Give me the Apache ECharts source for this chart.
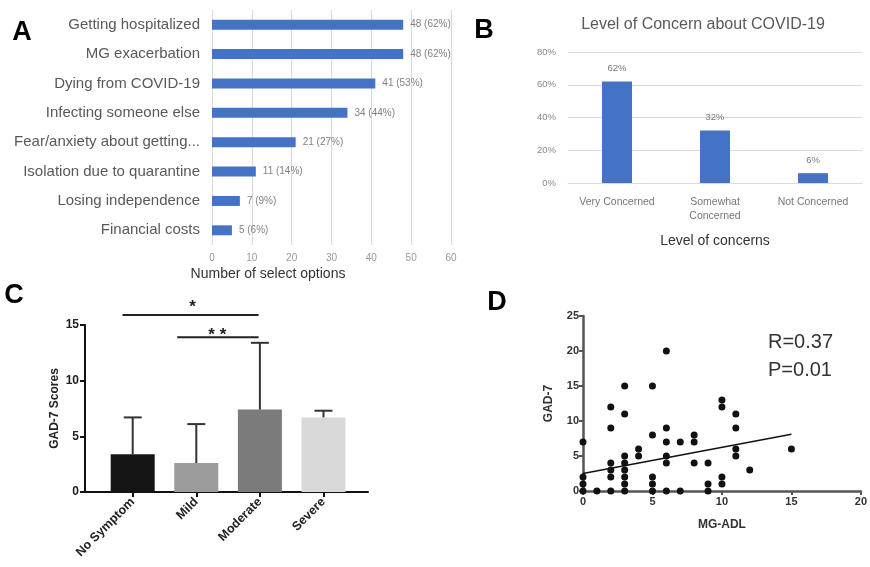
<!DOCTYPE html>
<html>
<head>
<meta charset="utf-8">
<script src="https://cdn.jsdelivr.net/npm/echarts@6/dist/echarts.min.js"></script>
<style>
  html, body { margin: 0; padding: 0; background: #fff; }
  #chart { width: 870px; height: 567px; }
</style>
</head>
<body>
<div id="chart"></div>
<script>
// A - concerns (number of select options)
const concernItems = ['Getting hospitalized', 'MG exacerbation', 'Dying from COVID-19', 'Infecting someone else',
  'Fear/anxiety about getting...', 'Isolation due to quarantine', 'Losing independence', 'Financial costs'];
const concernCounts = [48, 48, 41, 34, 21, 11, 7, 5];
const concernPercents = [62, 62, 53, 44, 27, 14, 9, 6];

// B - level of concern
const levelNames = ['Very Concerned', 'Somewhat\nConcerned', 'Not Concerned'];
const levelShares = [0.62, 0.32, 0.06];

// C - GAD-7 by group (mean, upper SD)
const gadGroups = ['No Symptom', 'Mild', 'Moderate', 'Severe'];
const gadMeans = [3.4, 2.6, 7.4, 6.7];
const gadErrTops = [6.7, 6.1, 13.4, 7.3];

// D - MG-ADL vs GAD-7
const adlScores = [0, 0, 0, 0, 1, 2, 2, 2, 2, 2, 2, 3, 3, 3, 3, 3, 3, 3, 3, 4, 4, 5, 5, 5, 5, 5,
  6, 6, 6, 6, 6, 6, 7, 7, 8, 8, 8, 9, 9, 9, 10, 10, 10, 10, 11, 11, 11, 11, 12, 15];
const gadScores = [0, 1, 2, 7, 0, 0, 2, 3, 4, 9, 12, 0, 1, 2, 3, 4, 5, 11, 15, 5, 6, 0, 1, 2, 8, 15,
  0, 4, 5, 7, 9, 20, 0, 7, 4, 7, 8, 0, 1, 4, 1, 2, 12, 13, 5, 6, 9, 11, 3, 6];
const trendX = [0, 15];
const trendY = [2.5, 8.1];

// styles
const officeBlue = '#4472c4';
const cBarColors = ['#141414', '#9c9c9c', '#7b7b7b', '#d9d9d9'];
const arial = 'Liberation Sans';

let mychart = echarts.init(document.getElementById('chart'));

let option = {
  animation: false,
  grid: [
    { left: 212, top: 10, width: 239, height: 235 },
    { left: 568, top: 52, width: 294, height: 131 },
    { left: 85, top: 325, width: 283, height: 167 },
    { left: 583, top: 316, width: 279, height: 175 }
  ],
  xAxis: [
    {
      gridIndex: 0, type: 'value', min: 0, max: 60, interval: 10,
      axisLine: { show: false }, axisTick: { show: false },
      axisLabel: { color: '#999', fontSize: 10, fontFamily: arial, margin: 8 },
      splitLine: { lineStyle: { color: '#d9d9d9' } }
    },
    {
      gridIndex: 1, type: 'category', data: levelNames,
      axisLine: { lineStyle: { color: '#d9d9d9' } }, axisTick: { show: false },
      axisLabel: { color: '#777', fontSize: 10.5, fontFamily: arial, margin: 12, lineHeight: 14 },
      name: 'Level of concerns', nameLocation: 'middle', nameGap: 51,
      nameTextStyle: { color: '#333', fontSize: 14, fontFamily: arial }
    },
    {
      gridIndex: 2, type: 'value', min: -0.75, max: 3.7,
      axisLine: { onZero: false, lineStyle: { color: '#111', width: 2 } },
      axisTick: { customValues: [0, 1, 2, 3], length: 5, lineStyle: { color: '#111', width: 2 } },
      axisLabel: {
        customValues: [0, 1, 2, 3], formatter: function (v) { return gadGroups[v]; },
        rotate: 45, fontWeight: 'bold', fontSize: 12.5, fontFamily: arial, color: '#222', margin: 8
      },
      splitLine: { show: false }
    },
    {
      gridIndex: 3, type: 'value', min: 0, max: 20, interval: 5,
      axisLine: { onZero: false, lineStyle: { color: '#555', width: 2.5 } },
      axisTick: { length: 4, lineStyle: { color: '#555', width: 2 } },
      axisLabel: { fontWeight: 'bold', fontSize: 11, fontFamily: arial, color: '#333', margin: 5 },
      splitLine: { show: false },
      name: 'MG-ADL', nameLocation: 'middle', nameGap: 28,
      nameTextStyle: { fontWeight: 'bold', fontSize: 12, fontFamily: arial, color: '#333' }
    }
  ],
  yAxis: [
    {
      gridIndex: 0, type: 'category', data: concernItems, inverse: true,
      axisLine: { show: false }, axisTick: { show: false },
      axisLabel: { color: '#595959', fontSize: 15, fontFamily: arial, margin: 12 }
    },
    {
      gridIndex: 1, type: 'value', min: 0, max: 0.8, interval: 0.2,
      axisLine: { show: false }, axisTick: { show: false },
      axisLabel: {
        color: '#888', fontSize: 9.5, fontFamily: arial, margin: 12,
        formatter: function (v) { return Math.round(v * 100) + '%'; }
      },
      splitLine: { lineStyle: { color: '#d9d9d9' } }
    },
    {
      gridIndex: 2, type: 'value', min: 0, max: 15, interval: 5,
      axisLine: { show: true, onZero: false, lineStyle: { color: '#111', width: 2 } },
      axisTick: { show: true, length: 5, lineStyle: { color: '#111', width: 2 } },
      axisLabel: { fontWeight: 'bold', fontSize: 12, fontFamily: arial, color: '#222', margin: 6 },
      splitLine: { show: false },
      name: 'GAD-7 Scores', nameLocation: 'middle', nameGap: 24,
      nameTextStyle: { fontWeight: 'bold', fontSize: 12, fontFamily: arial, color: '#222' }
    },
    {
      gridIndex: 3, type: 'value', min: 0, max: 25, interval: 5,
      axisLine: { show: true, onZero: false, lineStyle: { color: '#555', width: 2.5 } },
      axisTick: { show: true, length: 4, lineStyle: { color: '#555', width: 2 } },
      axisLabel: { fontWeight: 'bold', fontSize: 11, fontFamily: arial, color: '#333', margin: 4 },
      splitLine: { show: false },
      name: 'GAD-7', nameLocation: 'middle', nameGap: 28,
      nameTextStyle: { fontWeight: 'bold', fontSize: 12, fontFamily: arial, color: '#333' }
    }
  ],
  series: [
    //A
    {
      type: 'bar', xAxisIndex: 0, yAxisIndex: 0, data: concernCounts, barWidth: 10,
      itemStyle: { color: officeBlue },
      label: {
        show: true, position: 'right', distance: 7, fontSize: 10, fontFamily: arial, color: '#808080',
        formatter: function (p) { return p.value + ' (' + concernPercents[p.dataIndex] + '%)'; }
      }
    },
    //B
    {
      type: 'bar', xAxisIndex: 1, yAxisIndex: 1, data: levelShares, barWidth: 30,
      itemStyle: { color: officeBlue },
      label: {
        show: true, position: 'top', distance: 8, fontSize: 9.5, fontFamily: arial, color: '#777',
        formatter: function (p) { return Math.round(p.value * 100) + '%'; }
      }
    },
    //C bars
    {
      type: 'bar', xAxisIndex: 2, yAxisIndex: 2, barWidth: 44,
      data: gadMeans.map(function (m, i) {
        return { value: [i, m], itemStyle: { color: cBarColors[i] } };
      })
    },
    //C error bars
    {
      type: 'custom', xAxisIndex: 2, yAxisIndex: 2, z: 5,
      encode: { x: 0, y: [1, 2] },
      data: gadMeans.map(function (m, i) { return [i, m, gadErrTops[i]]; }),
      renderItem: function (params, api) {
        let x = api.value(0);
        let base = api.coord([x, api.value(1)]);
        let top = api.coord([x, api.value(2)]);
        let cap = 9;
        let st = { stroke: '#333', lineWidth: 2 };
        return {
          type: 'group', children: [
            { type: 'line', shape: { x1: base[0], y1: base[1], x2: top[0], y2: top[1] }, style: st },
            { type: 'line', shape: { x1: top[0] - cap, y1: top[1], x2: top[0] + cap, y2: top[1] }, style: st }
          ]
        };
      }
    },
    //D scatter
    {
      type: 'scatter', xAxisIndex: 3, yAxisIndex: 3, symbolSize: 7,
      itemStyle: { color: '#111', opacity: 1 },
      data: adlScores.map(function (x, i) { return [x, gadScores[i]]; })
    },
    //D trend
    {
      type: 'line', xAxisIndex: 3, yAxisIndex: 3, symbol: 'none',
      lineStyle: { color: '#111', width: 1.5 },
      data: trendX.map(function (x, i) { return [x, trendY[i]]; })
    }
  ]
};
mychart.setOption(option);

// 显著性标注
let sigBrackets = [
  { from: -0.16, to: 1.98, y: 15.9, text: '*', starX: 0.94, starY: 16.6 },
  { from: 0.7, to: 1.98, y: 13.9, text: '* *', starX: 1.33, starY: 14.1 }
];
let toPx = function (pt) { return mychart.convertToPixel({ xAxisIndex: 2, yAxisIndex: 2 }, pt); };
let graphics = [];
sigBrackets.forEach(function (b) {
  let a = toPx([b.from, b.y]);
  let c = toPx([b.to, b.y]);
  graphics.push({ type: 'line', shape: { x1: a[0], y1: a[1], x2: c[0], y2: c[1] }, style: { stroke: '#222', lineWidth: 2 } });
  let s = toPx([b.starX, b.starY]);
  graphics.push({
    type: 'text', x: s[0], y: s[1],
    style: { text: b.text, font: 'bold 17px ' + arial, fill: '#222', align: 'center', verticalAlign: 'middle' }
  });
});
// 面板字母
[['A', 22, 33], ['B', 484, 31], ['C', 14, 296], ['D', 497, 303]].forEach(function (l) {
  graphics.push({
    type: 'text', x: l[1], y: l[2],
    style: { text: l[0], font: 'bold 27px ' + arial, fill: '#000', align: 'center', verticalAlign: 'middle' }
  });
});
// 标题 & 轴名 & 统计量
graphics.push({
  type: 'text', x: 703, y: 25,
  style: { text: 'Level of Concern about COVID-19', font: '16px ' + arial, fill: '#595959', align: 'center', verticalAlign: 'middle' }
});
graphics.push({
  type: 'text', x: 268, y: 274,
  style: { text: 'Number of select options', font: '14px ' + arial, fill: '#333', align: 'center', verticalAlign: 'middle' }
});
graphics.push({
  type: 'text', x: 768, y: 342,
  style: { text: 'R=0.37', font: '20px ' + arial, fill: '#333', align: 'left', verticalAlign: 'middle' }
});
graphics.push({
  type: 'text', x: 768, y: 370,
  style: { text: 'P=0.01', font: '20px ' + arial, fill: '#333', align: 'left', verticalAlign: 'middle' }
});
mychart.setOption({ graphic: graphics });
</script>
</body>
</html>
